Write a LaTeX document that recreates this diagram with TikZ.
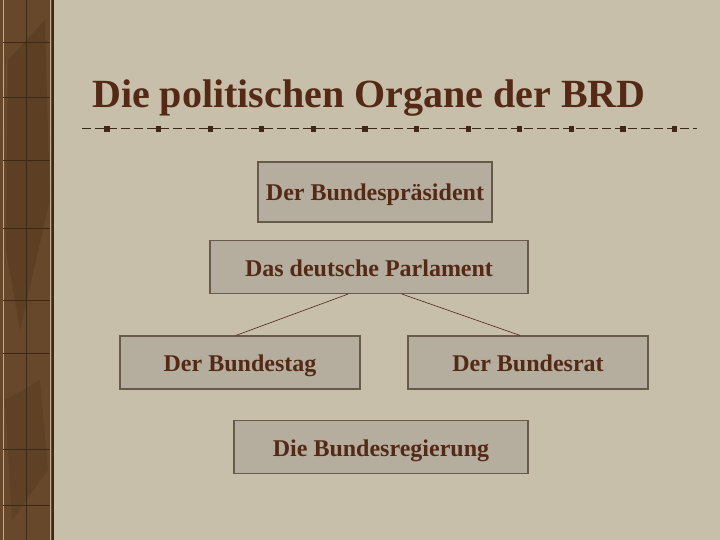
\documentclass[tikz,border=0pt]{standalone}
\usepackage{fontspec}
\setmainfont{Liberation Serif}
\usepackage{tikz}
\usetikzlibrary{positioning}
\definecolor{paper}{RGB}{199,191,170}
\definecolor{boxfill}{RGB}{181,173,158}
\definecolor{boxline}{RGB}{104,90,74}
\definecolor{ink}{RGB}{84,42,22}
\definecolor{leather}{RGB}{104,72,42}
\definecolor{leatherdark}{RGB}{62,40,22}
\definecolor{seam}{RGB}{190,172,140}
\tikzstyle{organbox} = [rectangle, draw=boxline, line width=1.2pt, fill=boxfill, minimum height=53pt, text height=18pt, text depth=0pt, text=ink, font=\bfseries\fontsize{24}{28}\selectfont]
\tikzstyle{link} = [draw=ink!90!black, line width=0.6pt]
\tikzstyle{rule} = [draw=leatherdark, line width=1pt, dash pattern=on 9pt off 4pt]

\begin{document}
\begin{tikzpicture}[x=1pt, y=-1pt]

      % page and leather strip
      \fill[paper] (0,0) rectangle (720,540);
      \useasboundingbox (0,0) rectangle (720,540);
      \fill[leather] (0,0) rectangle (53,540);
      \fill[leatherdark, opacity=0.25] (8,60) -- (45,20) -- (50,200) -- (20,330) -- (6,250) -- cycle;
      \fill[leatherdark, opacity=0.2] (5,400) -- (40,380) -- (48,470) -- (12,520) -- cycle;
      \draw[seam, line width=0.8pt] (3,0) -- (3,540);
      \draw[seam, line width=0.8pt] (50,0) -- (50,540);
      \draw[leatherdark, line width=1.5pt] (53,0) -- (53,540);
      \draw[leatherdark, line width=0.7pt] (26,0) -- (26,540);
      \foreach \y in {42,97,160,228,300,353,449,505}
        \draw[leatherdark, line width=0.7pt] (3,\y) -- (50,\y);

      % title
      \node (title) [anchor=base west, inner sep=0pt, text=ink, font=\bfseries\fontsize{40}{44}\selectfont] at (92,108) {Die politischen Organe der BRD};
      \coordinate (ruleL) at (82,129);
      \coordinate (ruleR) at (697,129);
      \draw[rule] (ruleL) -- (ruleR);
      \foreach \i in {0,...,11}
        \fill[leatherdark] (107+51.6*\i-2.6,126.4) rectangle ++(5.2,5.2);

      % organs
      \node (praes) [organbox, minimum width=234pt, minimum height=60pt] at (375,192) {Der Bundespräsident};
      \node (parl) [organbox, minimum width=318pt] at (369,267) {Das deutsche Parlament};
      \node (tag) [organbox, minimum width=240pt] at (240,362.5) {Der Bundestag};
      \node (rat) [organbox, minimum width=240pt] at (528,362.5) {Der Bundesrat};
      \node (reg) [organbox, minimum width=294pt] at (381,447) {Die Bundesregierung};

      \draw[link] ([xshift=-21pt]parl.south) -- ([xshift=-4pt]tag.north);
      \draw[link] ([xshift=33pt]parl.south) -- ([xshift=-8pt]rat.north);
    \end{tikzpicture}
\end{document}
